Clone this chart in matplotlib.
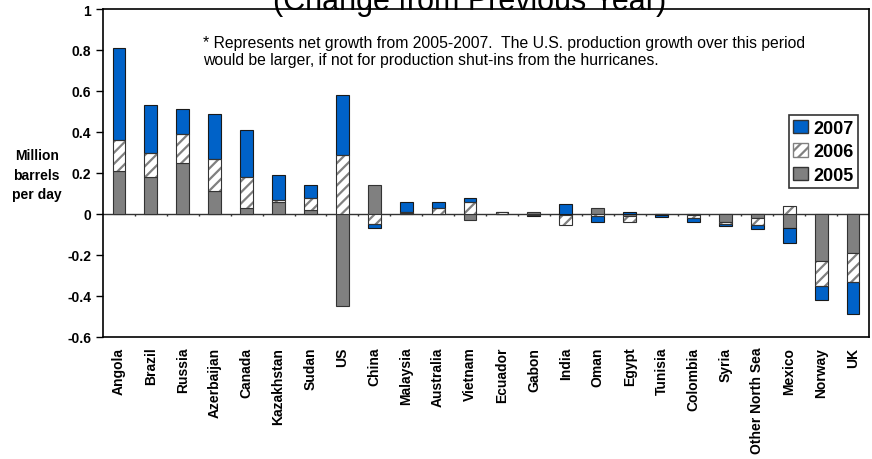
import numpy as np
import matplotlib.pyplot as plt
from matplotlib.patches import Patch
from matplotlib.ticker import FuncFormatter

plt.rcParams['font.family'] = ['Liberation Sans', 'DejaVu Sans']
plt.rcParams['axes.unicode_minus'] = False
plt.rcParams['hatch.linewidth'] = 1.6

countries = ['Angola', 'Brazil', 'Russia', 'Azerbaijan', 'Canada', 'Kazakhstan',
             'Sudan', 'US', 'China', 'Malaysia', 'Australia', 'Vietnam', 'Ecuador',
             'Gabon', 'India', 'Oman', 'Egypt', 'Tunisia', 'Colombia', 'Syria',
             'Other North Sea', 'Mexico', 'Norway', 'UK']

y2005 = [0.21, 0.18, 0.25, 0.11, 0.03, 0.06, 0.02, -0.45, 0.14, 0.005, 0.0, -0.03,
         0.0, 0.01, -0.005, 0.03, -0.01, -0.005, -0.005, -0.04, -0.02, -0.07, -0.23, -0.19]
y2006 = [0.15, 0.12, 0.14, 0.16, 0.15, 0.01, 0.06, 0.29, -0.05, 0.005, 0.03, 0.06,
         0.012, -0.005, -0.05, -0.01, -0.03, 0.0, -0.015, -0.01, -0.035, 0.04, -0.12, -0.14]
y2007 = [0.45, 0.23, 0.12, 0.22, 0.23, 0.12, 0.06, 0.29, -0.02, 0.05, 0.03, 0.02,
         0.0, -0.005, 0.05, -0.03, 0.01, -0.01, -0.02, -0.01, -0.02, -0.07, -0.07, -0.16]

blue = '#0062C8'
gray = '#808080'

fig = plt.figure(figsize=(8.72, 4.6), dpi=100)
ax = fig.add_axes([103 / 872, 1 - 338 / 460, 766 / 872, 328 / 460])

x = np.arange(len(countries))
w = 0.4
pos_base = np.zeros(len(x))
neg_base = np.zeros(len(x))

for vals, kind in [(y2005, 'g'), (y2006, 'h'), (y2007, 'b')]:
    v = np.array(vals)
    bottom = np.where(v >= 0, pos_base, neg_base)
    if kind == 'g':
        ax.bar(x, v, w, bottom=bottom, color=gray, edgecolor='#333333', linewidth=0.8, zorder=2)
    elif kind == 'b':
        ax.bar(x, v, w, bottom=bottom, color=blue, edgecolor='#1a1a1a', linewidth=0.8, zorder=2)
    else:
        ax.bar(x, v, w, bottom=bottom, color='white', edgecolor='#808080', hatch='///',
               linewidth=0, zorder=2)
        ax.bar(x, v, w, bottom=bottom, fill=False, edgecolor='#333333', linewidth=0.8, zorder=3)
    pos_base = pos_base + np.where(v >= 0, v, 0)
    neg_base = neg_base + np.where(v < 0, v, 0)

ax.set_xlim(-0.5, len(x) - 0.5)
ax.set_ylim(-0.6, 1.0)
ax.set_yticks(np.arange(-0.6, 1.01, 0.2))
ax.yaxis.set_major_formatter(FuncFormatter(lambda v, p: '%g' % round(v, 1)))
ax.tick_params(axis='y', direction='out', length=5, width=1, labelsize=10)
for t in ax.get_yticklabels():
    t.set_fontweight('bold')

ax.set_xticks(x)
ax.set_xticklabels(countries, rotation=90, fontsize=10, fontweight='bold')
ax.tick_params(axis='x', length=0, pad=7)

# category axis at zero with tick marks between categories
ax.axhline(0, color='#333333', linewidth=1, zorder=1)
ax.vlines(x[:-1] + 0.5, -0.012, 0, color='#333333', linewidth=1, zorder=1)

for s in ax.spines.values():
    s.set_linewidth(1.2)
    s.set_color('black')

fig.text(0.042, 1 - 176 / 460, 'Million\nbarrels\nper day', ha='center', va='center',
         fontsize=10, fontweight='bold', linespacing=1.5)

fig.text(470 / 872, 1 - 10 / 460, '(Change from Previous Year)', ha='center',
         va='baseline', fontsize=22)

ax.text(203 / 872, 1 - 52 / 460,
        '* Represents net growth from 2005-2007.  The U.S. production growth over this period\n'
        'would be larger, if not for production shut-ins from the hurricanes.',
        transform=fig.transFigure, ha='left', va='center', fontsize=11.3, linespacing=1.15)

handles = [Patch(facecolor=blue, edgecolor='#333333', label='2007'),
           Patch(facecolor='white', edgecolor='#808080', hatch='///', label='2006'),
           Patch(facecolor=gray, edgecolor='#333333', label='2005')]
leg = ax.legend(handles=handles, loc='upper right', bbox_to_anchor=(858 / 872, 1 - 116 / 460),
                bbox_transform=fig.transFigure, fancybox=False, edgecolor='black',
                prop={'weight': 'bold', 'size': 13}, handlelength=0.8, handleheight=0.8,
                handletextpad=0.3, borderpad=0.25, labelspacing=0.35, borderaxespad=0)
leg.get_frame().set_linewidth(1.2)

fig.savefig('out.png', dpi=100)
